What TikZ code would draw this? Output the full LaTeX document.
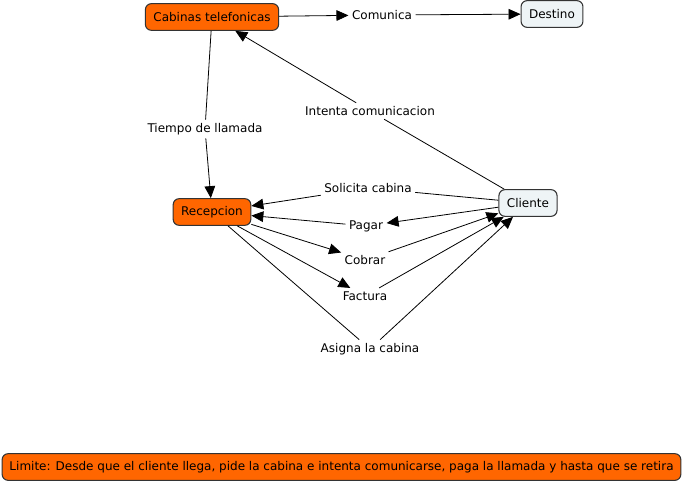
\documentclass[tikz,border=0pt]{standalone}
\usepackage{fontspec}
\setmainfont{DejaVu Sans}
\usetikzlibrary{arrows.meta}
\definecolor{orng}{HTML}{FF6600}
\definecolor{pale}{HTML}{EEF4F6}
\definecolor{edge}{HTML}{333333}
\newcommand{\fsz}{\fontsize{9pt}{11pt}\selectfont}
\tikzset{
  concept/.style={draw=edge, line width=0.8pt, rounded corners=4.5pt, inner xsep=6pt, inner ysep=0pt, minimum height=20pt, font=\fsz, text=black},
  hot/.style={concept, fill=orng},
  cool/.style={concept, fill=pale},
  lbl/.style={inner sep=2.5pt, font=\fsz},
  con/.style={draw=black, line width=0.6pt},
  arr/.style={con, -{Triangle[length=9pt,width=8pt]}}
}
\begin{document}
\begin{tikzpicture}[x=0.75pt,y=-0.75pt]
\useasboundingbox (0,0) rectangle (684,484);
\node[hot] (cab) at (212,17) {Cabinas telefonicas};
\node[lbl] (com) at (382,15) {Comunica};
\node[cool] (des) at (552,14) {Destino};
\node[lbl] (tie) at (205,129) {Tiempo de llamada};
\node[lbl] (int) at (370,111) {Intenta comunicacion};
\node[hot] (rec) at (212,212) {Recepcion};
\node[cool] (cli) at (528,203) {Cliente};
\node[lbl] (sol) at (368,188) {Solicita cabina};
\node[lbl] (pag) at (366,226) {Pagar};
\node[lbl] (cob) at (365,260) {Cobrar};
\node[lbl] (fac) at (365,296) {Factura};
\node[lbl] (asi) at (370,349) {Asigna la cabina};
\node[hot, minimum height=20pt, inner xsep=5.5pt] (lim) at (341.5,467) {Limite: Desde que el cliente llega, pide la cabina e intenta comunicarse, paga la llamada y hasta que se retira};

\draw[arr] (cab) -- (com);
\draw[arr] (com) -- (des);
\draw[con] (cab) -- (tie);
\draw[arr] (tie) -- (rec);
\draw[con] (cli) -- (int);
\draw[arr] (int) -- (cab);
\draw[con] (cli) -- (sol);
\draw[arr] (sol) -- (rec);
\draw[arr] (cli) -- (pag);
\draw[arr] (pag) -- (rec);
\draw[arr] (rec) -- (cob);
\draw[arr] (cob) -- (cli);
\draw[arr] (rec) -- (fac);
\draw[arr] (fac) -- (cli);
\draw[con] (rec) -- (asi);
\draw[arr] (asi) -- (cli);
\end{tikzpicture}
\end{document}
